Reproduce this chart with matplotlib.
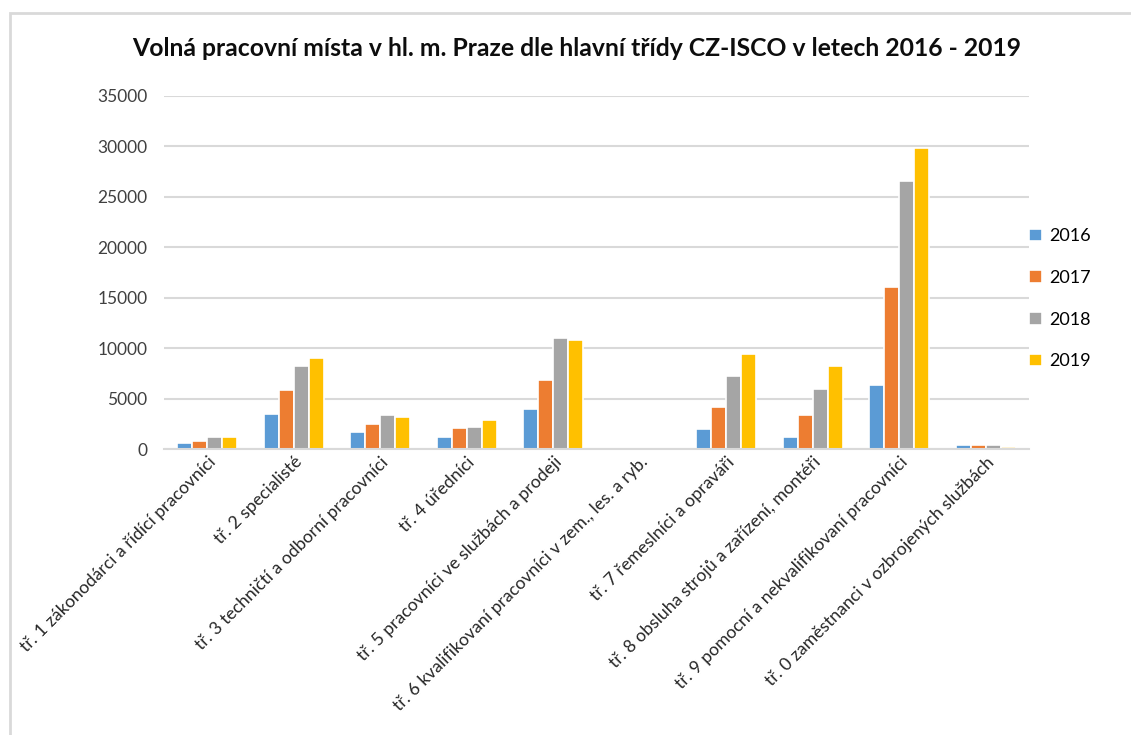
import numpy as np
import matplotlib
matplotlib.use("Agg")
import matplotlib.pyplot as plt
from matplotlib.patches import Rectangle

plt.rcParams['font.family'] = ['Lato', 'DejaVu Sans']

categories = [
    'tř. 1 zákonodárci a řídící pracovníci',
    'tř. 2 specialisté',
    'tř. 3 techničtí a odborní pracovníci',
    'tř. 4 úředníci',
    'tř. 5 pracovníci ve službách a prodeji',
    'tř. 6 kvalifikovaní pracovníci v zem., les. a ryb.',
    'tř. 7 řemeslníci a opraváři',
    'tř. 8 obsluha strojů a zařízení, montéři',
    'tř. 9 pomocní a nekvalifikovaní pracovníci',
    'tř. 0 zaměstnanci v ozbrojených službách',
]
years = ['2016', '2017', '2018', '2019']
v2016 = [560, 3490, 1710, 1160, 3930, 0, 1950, 1160, 6300, 360]
v2017 = [820, 5840, 2470, 2050, 6860, 0, 4150, 3360, 16020, 360]
v2018 = [1160, 8180, 3360, 2150, 10980, 0, 7190, 5970, 26540, 360]
v2019 = [1160, 8970, 3160, 2840, 10750, 0, 9430, 8210, 29800, 230]
series = [v2016, v2017, v2018, v2019]
colors = ['#5B9BD5', '#ED7D31', '#A5A5A5', '#FFC000']

fig = plt.figure(figsize=(11.31, 7.35), dpi=100)
# outer chart frame (cropped at right/bottom)
fig.patches.append(Rectangle((10 / 1131, -0.1), 1.2, 1 - 13 / 735 + 0.1,
                             transform=fig.transFigure, fill=False,
                             edgecolor='#D9D9D9', linewidth=2))

ax = fig.add_axes([164 / 1131, 1 - 449 / 735, (1029 - 164) / 1131, (449 - 95.7) / 735])

x = np.arange(len(categories))
step = 0.1725
for i, (vals, c) in enumerate(zip(series, colors)):
    ax.bar(x + (i - 1.5) * step, vals, width=step, color=c,
           edgecolor='white', linewidth=1.2, label=years[i], zorder=2)

ax.set_xlim(-0.5, len(categories) - 0.5)
ax.set_ylim(0, 35000)
ax.set_yticks(range(0, 35001, 5000))
ax.yaxis.grid(True, color='#D9D9D9', linewidth=1.5, zorder=0)
ax.set_axisbelow(True)
for s in ['top', 'right', 'left']:
    ax.spines[s].set_visible(False)
ax.spines['bottom'].set_color('#D9D9D9')
ax.spines['bottom'].set_linewidth(1.5)
ax.spines['bottom'].set_zorder(3)
ax.tick_params(axis='both', length=0, labelsize=12.5, colors='#404040')
ax.tick_params(axis='y', pad=12)
ax.set_xticks(x)
ax.set_xticklabels(categories, rotation=45, ha='right', rotation_mode='anchor',
                   fontsize=12.7, color='#262626')

fig.text(0.5 + 0.01, 1 - 48 / 735, 'Volná pracovní místa v hl. m. Praze dle hlavní třídy CZ-ISCO v letech 2016 - 2019',
         ha='center', va='center', fontsize=17.8, fontweight='bold', color='#0D0D0D')

ax.legend(loc='upper left', bbox_to_anchor=(0.992, 0.645), frameon=False,
          fontsize=13, handlelength=0.7, handleheight=0.7, labelspacing=1.42,
          handletextpad=0.4, borderaxespad=0)

fig.savefig('out.png', dpi=100)
